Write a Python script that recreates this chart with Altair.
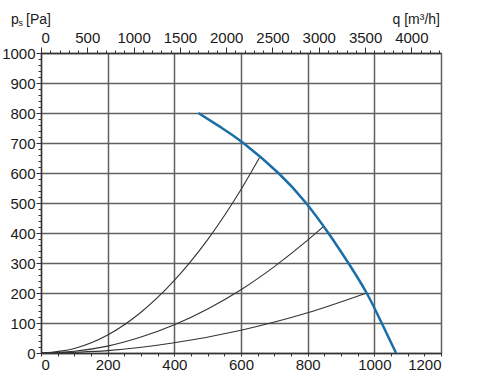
import altair as alt
import pandas as pd

# Fan curve (bottom axis units 0-1200, static pressure Pa)
fan_q = [472, 540, 607, 712, 795, 862, 922, 977, 1022, 1065]
fan_p = [800, 752, 700, 600, 500, 400, 300, 200, 100, 0]

# System curves
sys1_q = [0, 100, 200, 300, 400, 500, 600, 657]
sys1_p = [0, 15, 60, 136, 242, 378, 545, 654]
sys2_q = [0, 100, 200, 300, 400, 500, 600, 700, 800, 847]
sys2_p = [0, 6, 23, 53, 94, 147, 211, 288, 376, 421]
sys3_q = [0, 200, 400, 600, 800, 977]
sys3_p = [0, 8, 34, 76, 134, 200]

x_ticks = [0, 200, 400, 600, 800, 1000, 1200]
x_minor = list(range(0, 1201, 50))
y_ticks = [0, 100, 200, 300, 400, 500, 600, 700, 800, 900, 1000]
y_minor = list(range(0, 1001, 20))
top_ticks = [0, 500, 1000, 1500, 2000, 2500, 3000, 3500, 4000]
top_minor = list(range(0, 4301, 100))
top_max = 4320

FONT = "Liberation Sans"
GRID = "#606060"
INK = "#333333"
LBL = "#1a1a1a"
BLUE = "#1a6ea8"
FS = 15

X_DOM = [0, 1200]
Y_DOM = [0, 1000]

sys_df = pd.DataFrame(
    [{"q": q, "p": p, "s": "1"} for q, p in zip(sys1_q, sys1_p)]
    + [{"q": q, "p": p, "s": "2"} for q, p in zip(sys2_q, sys2_p)]
    + [{"q": q, "p": p, "s": "3"} for q, p in zip(sys3_q, sys3_p)]
)
fan_df = pd.DataFrame({"q": fan_q, "p": fan_p})

xs = alt.Scale(domain=X_DOM, nice=False, zero=False)
ys = alt.Scale(domain=Y_DOM, nice=False, zero=False)

systems = alt.Chart(sys_df).mark_line(
    color=INK, strokeWidth=1.1, interpolate="monotone"
).encode(
    x=alt.X("q:Q", scale=xs, axis=alt.Axis(
        orient="bottom", values=x_ticks, format="d", grid=True, gridColor=GRID,
        gridWidth=1.5, tickSize=0, labelPadding=4, domainColor=INK, domainWidth=1.3,
        title=None, labelFont=FONT, labelFontSize=FS, labelColor=LBL)),
    y=alt.Y("p:Q", scale=ys, axis=alt.Axis(
        orient="left", values=y_ticks, format="d", grid=True, gridColor=GRID,
        gridWidth=1.5, tickSize=5, tickColor=INK, labelPadding=1, domainColor=INK,
        domainWidth=1.3, title=None, labelFont=FONT, labelFontSize=FS,
        labelColor=LBL)),
    detail="s:N",
)

fan = alt.Chart(fan_df).mark_line(
    color=BLUE, strokeWidth=2.5, interpolate="natural"
).encode(
    x=alt.X("q:Q", scale=xs, axis=None),
    y=alt.Y("p:Q", scale=ys, axis=None),
)

top = alt.Chart(pd.DataFrame({"v": top_ticks})).mark_point(opacity=0).encode(
    x=alt.X("v:Q", scale=alt.Scale(domain=[0, top_max], nice=False, zero=False),
            axis=alt.Axis(orient="top", values=top_ticks, format="d", grid=False,
                          tickSize=6, tickColor=INK, labelPadding=2, domainColor=INK,
                          domainWidth=1.3, title=None, labelFont=FONT,
                          labelFontSize=FS, labelColor=LBL)),
)

top_m = alt.Chart(pd.DataFrame({"v": top_minor})).mark_point(opacity=0).encode(
    x=alt.X("v:Q", scale=alt.Scale(domain=[0, top_max], nice=False, zero=False),
            axis=alt.Axis(orient="top", values=top_minor, grid=False, tickSize=3,
                          tickColor=INK, labels=False, domain=False, title=None)),
)

left_m = alt.Chart(pd.DataFrame({"v": y_minor})).mark_point(opacity=0).encode(
    y=alt.Y("v:Q", scale=ys,
            axis=alt.Axis(orient="left", values=y_minor, grid=False, tickSize=3,
                          tickColor=INK, labels=False, domain=False, title=None)),
)

bottom_m = alt.Chart(pd.DataFrame({"v": x_minor})).mark_point(opacity=0).encode(
    x=alt.X("v:Q", scale=xs,
            axis=alt.Axis(orient="bottom", values=x_minor, grid=False, tickSize=3,
                          tickColor=INK, labels=False, domain=False, title=None)),
)

def label(txt, x, y, size=FS, align="left"):
    return alt.Chart(pd.DataFrame({"t": [txt]})).mark_text(
        font=FONT, fontSize=size, color=LBL, align=align, baseline="alphabetic"
    ).encode(text="t:N", x=alt.value(x), y=alt.value(y))

titles = [
    label("p", -30, -29, size=14),
    label("s", -22.5, -27, size=9),
    label("[Pa]", -15, -29, size=14),
    label("q [m³/h]", 399, -29, size=14, align="right"),
]

chart = alt.layer(systems, fan, top, top_m, left_m, bottom_m, *titles).resolve_scale(
    x="independent", y="independent"
).properties(
    width=400, height=300,
    autosize=alt.AutoSizeParams(type="none"),
    padding={"left": 41, "top": 53, "right": 36, "bottom": 23},
).configure_view(stroke=None).configure(background="white")

chart.save("out.html", embed_options={"renderer": "svg", "actions": False})
